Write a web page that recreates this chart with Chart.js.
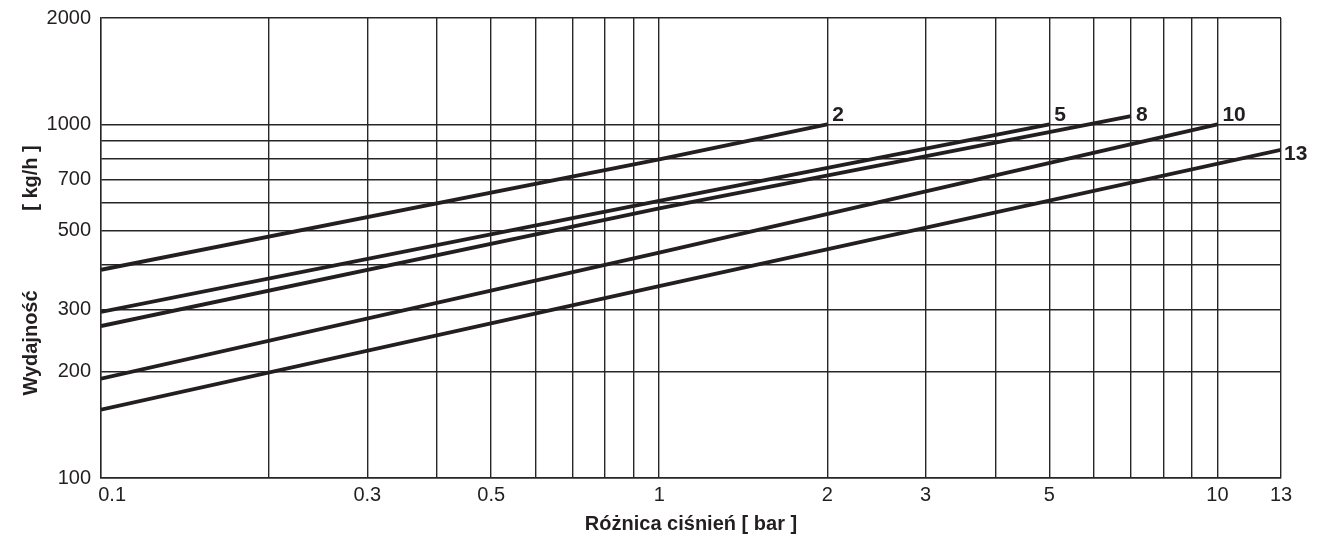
<!DOCTYPE html>
<html>
<head>
<meta charset="utf-8">
<script src="https://cdn.jsdelivr.net/npm/chart.js@4/dist/chart.umd.min.js"></script>
<style>
  html, body { margin: 0; padding: 0; background: #fff; }
  #chart { display: block; }
</style>
</head>
<body>
<canvas id="chart" width="1322" height="540"></canvas>
<script>
// ── Data ──────────────────────────────────────
const curveNames = ['2', '5', '8', '10', '13'];

const pressure2 = [0.1, 1, 2];
const flow2 = [388, 797, 1000];
const pressure5 = [0.1, 1, 5];
const flow5 = [295, 608, 1000];
const pressure8 = [0.1, 1, 7];
const flow8 = [269, 579, 1055];
const pressure10 = [0.1, 1, 10];
const flow10 = [191, 434, 1000];
const pressure13 = [0.1, 1, 13];
const flow13 = [156, 349, 848];

// grid lines and which of them get a label
const xGridValues = [0.1, 0.2, 0.3, 0.4, 0.5, 0.6, 0.7, 0.8, 0.9, 1, 2, 3, 4, 5, 6, 7, 8, 9, 10, 13];
const xTickLabels = [0.1, 0.3, 0.5, 1, 2, 3, 5, 10, 13];
const yGridValues = [100, 200, 300, 400, 500, 600, 700, 800, 900, 1000, 2000];
const yTickLabels = [100, 200, 300, 500, 700, 1000, 2000];

const INK = '#231f20';
const GRID = '#262626';
const FONT = "'Liberation Sans', Arial, Helvetica, sans-serif";

function pts(xs, ys) {
    return xs.map((x, i) => ({ x: x, y: ys[i] }));
}

// ── Curve labels (2, 5, 8, 10, 13) ────────────
const curveLabels = {
    id: 'curveLabels',
    afterDatasetsDraw(chart) {
        const ctx = chart.ctx;
        const area = chart.chartArea;
        const rowY = chart.scales.y.getPixelForValue(1000) - 3;
        ctx.save();
        ctx.fillStyle = INK;
        ctx.font = 'bold 21px ' + FONT;
        ctx.textAlign = 'left';
        chart.data.datasets.forEach((ds, i) => {
            const meta = chart.getDatasetMeta(i);
            const last = meta.data[meta.data.length - 1];
            if (last.x >= area.right - 1) {
                ctx.textBaseline = 'middle';
                ctx.fillText(ds.label, last.x + 3, last.y + 4);
            } else {
                ctx.textBaseline = 'alphabetic';
                ctx.fillText(ds.label, last.x + 5, rowY);
            }
        });
        ctx.restore();
    }
};

// ── Y axis title (two parts, rotated) ─────────
const yTitle = {
    id: 'yTitle',
    afterDraw(chart) {
        const ctx = chart.ctx;
        ctx.save();
        ctx.fillStyle = INK;
        ctx.font = 'bold 20px ' + FONT;
        ctx.textAlign = 'center';
        ctx.textBaseline = 'middle';
        [['Wydajność', 343], ['[ kg/h ]', 178]].forEach(([txt, y]) => {
            ctx.save();
            ctx.translate(31, y);
            ctx.rotate(-Math.PI / 2);
            ctx.fillText(txt, 0, 0);
            ctx.restore();
        });
        ctx.restore();
    }
};

const lineStyle = { borderColor: INK, borderWidth: 3.8, pointRadius: 0, tension: 0, fill: false };

new Chart(document.getElementById('chart'), {
    type: 'line',
    data: {
        datasets: [
            Object.assign({ label: curveNames[0], data: pts(pressure2, flow2) }, lineStyle),
            Object.assign({ label: curveNames[1], data: pts(pressure5, flow5) }, lineStyle),
            Object.assign({ label: curveNames[2], data: pts(pressure8, flow8) }, lineStyle),
            Object.assign({ label: curveNames[3], data: pts(pressure10, flow10) }, lineStyle),
            Object.assign({ label: curveNames[4], data: pts(pressure13, flow13) }, lineStyle)
        ]
    },
    options: {
        responsive: false,
        animation: false,
        devicePixelRatio: 1,
        layout: { padding: { top: 18, right: 41, left: 0, bottom: 0 } },
        plugins: { legend: { display: false }, tooltip: { enabled: false } },
        scales: {
            x: {
                type: 'logarithmic',
                min: 0.1, max: 13,
                afterBuildTicks: s => { s.ticks = xGridValues.map(v => ({ value: v })); },
                afterFit: s => { s.height = 62; s.paddingLeft = 0; s.paddingRight = 0; },
                grid: { color: GRID, lineWidth: 1.4, drawTicks: false },
                border: { color: GRID, width: 1.4 },
                ticks: {
                    autoSkip: false, maxRotation: 0, padding: 5,
                    color: INK, font: { family: FONT, size: 20 },
                    callback: v => {
                        if (!xTickLabels.includes(v)) return '';
                        return v === 0.1 ? '    0.1' : String(v);
                    }
                },
                title: {
                    display: true, text: 'Różnica ciśnień [ bar ]',
                    color: INK, font: { family: FONT, size: 20, weight: 'bold' },
                    padding: { top: 0, bottom: 4 }
                }
            },
            y: {
                type: 'logarithmic',
                min: 100, max: 2000,
                afterBuildTicks: s => { s.ticks = yGridValues.map(v => ({ value: v })); },
                afterFit: s => { s.width = 101; s.paddingTop = 0; s.paddingBottom = 0; },
                grid: { color: GRID, lineWidth: 1.4, drawTicks: false },
                border: { color: GRID, width: 1.4 },
                ticks: {
                    autoSkip: false, padding: 10,
                    color: INK, font: { family: FONT, size: 20 },
                    callback: v => yTickLabels.includes(v) ? String(v) : ''
                }
            }
        }
    },
    plugins: [curveLabels, yTitle]
});
</script>
</body>
</html>
